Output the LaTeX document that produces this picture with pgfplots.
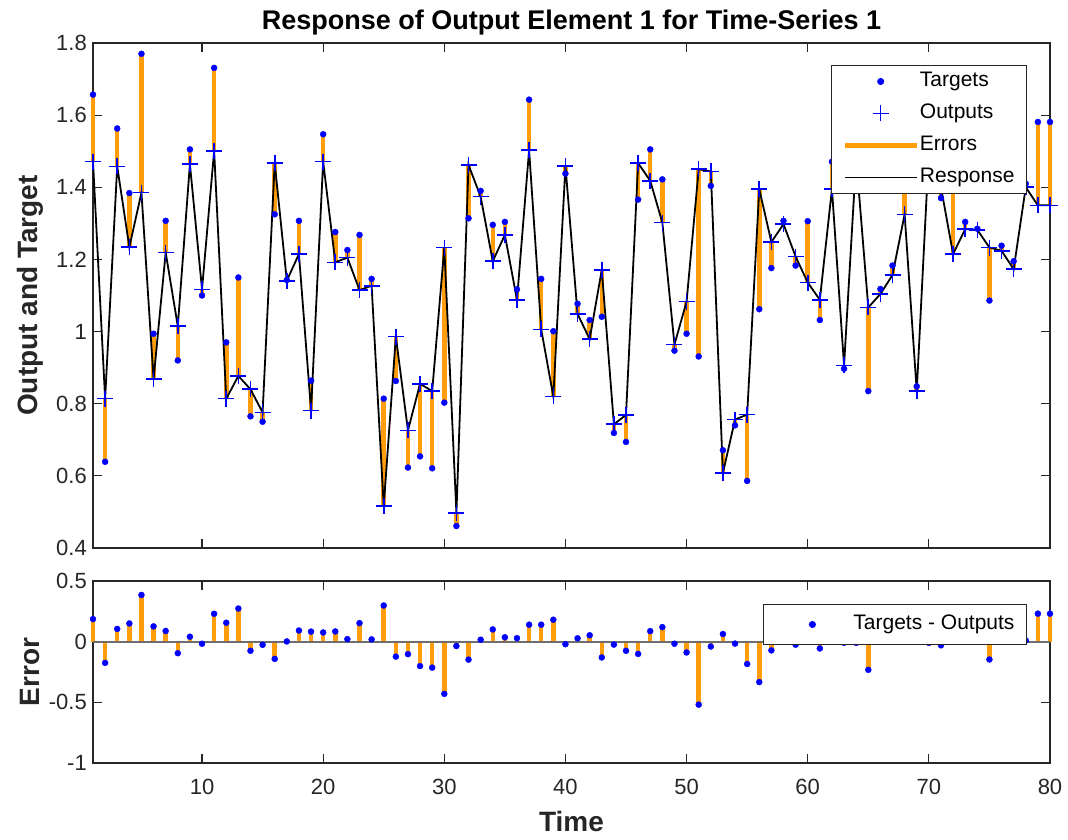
\documentclass[border=0pt]{standalone}
\usepackage{fontspec}
\setmainfont{Liberation Sans}
\usepackage{pgfplots}
\pgfplotsset{compat=1.18}
\usepackage{pgfplotstable}
\definecolor{orangeC}{RGB}{255,158,10}
\definecolor{axgray}{RGB}{38,38,38}
\definecolor{zgray}{RGB}{110,110,110}

\pgfplotstableread{
t tgt out
1 1.657 1.471
2 0.639 0.814
3 1.563 1.458
4 1.384 1.234
5 1.770 1.385
6 0.994 0.868
7 1.307 1.219
8 0.920 1.015
9 1.505 1.464
10 1.100 1.117
11 1.731 1.501
12 0.970 0.814
13 1.150 0.877
14 0.765 0.840
15 0.750 0.776
16 1.325 1.467
17 1.143 1.141
18 1.307 1.215
19 0.864 0.781
20 1.547 1.471
21 1.276 1.192
22 1.226 1.205
23 1.268 1.115
24 1.146 1.127
25 0.814 0.516
26 0.863 0.986
27 0.623 0.726
28 0.654 0.855
29 0.621 0.835
30 0.803 1.233
31 0.461 0.497
32 1.314 1.462
33 1.390 1.374
34 1.296 1.195
35 1.304 1.268
36 1.117 1.088
37 1.643 1.503
38 1.146 1.006
39 1.001 0.820
40 1.438 1.459
41 1.077 1.049
42 1.032 0.979
43 1.041 1.171
44 0.719 0.743
45 0.694 0.769
46 1.366 1.467
47 1.505 1.418
48 1.422 1.302
49 0.947 0.964
50 0.994 1.083
51 0.931 1.450
52 1.404 1.444
53 0.671 0.608
54 0.740 0.756
55 0.586 0.770
56 1.062 1.395
57 1.176 1.248
58 1.307 1.298
59 1.183 1.208
60 1.306 1.136
61 1.032 1.088
62 1.471 1.395
63 0.897 0.906
64 1.470 1.480
65 0.835 1.067
66 1.118 1.104
67 1.183 1.157
68 1.430 1.325
69 0.848 0.835
70 1.490 1.500
71 1.370 1.400
72 1.450 1.215
73 1.304 1.284
74 1.285 1.282
75 1.086 1.233
76 1.238 1.224
77 1.195 1.173
78 1.410 1.400
79 1.581 1.350
80 1.581 1.350
}\data

\pgfplotsset{
  common/.style={
    scale only axis, width=957pt, xmin=1, xmax=80, clip=false,
    xtick={10,20,30,40,50,60,70,80},
    axis line style={axgray, line width=1.2pt},
    tick style={axgray, line width=1.2pt},
    major tick length=9pt,
    tick align=inside,
    ticklabel style={font=\fontsize{22}{26}\selectfont, text=axgray},
    /pgf/number format/assume math mode=true,
    xticklabel style={anchor=north, inner sep=0pt, yshift=-16pt},
    yticklabel style={anchor=east, inner sep=0pt, xshift=-6pt},
    every axis y label/.style={at={([xshift=-63pt]axis description cs:0,0.5)}, rotate=90, anchor=center, font=\bfseries\fontsize{28}{32}\selectfont, text=axgray},
    every axis x label/.style={at={([yshift=-58pt]axis description cs:0.5,0)}, anchor=center, font=\bfseries\fontsize{28}{32}\selectfont, text=axgray},
    legend cell align=left,
  }
}

\begin{document}
\begin{tikzpicture}
% ---------- top axis ----------
\begin{axis}[common,
  at={(0pt,215pt)}, anchor=south west,
  height=505pt,
  ymin=0.4, ymax=1.8,
  ytick={0.4,0.6,0.8,1,1.2,1.4,1.6,1.8},
  xticklabels={},
  ylabel={Output and Target},
  title={Response of Output Element 1 for Time-Series 1},
  every axis title/.style={at={([yshift=20pt]axis description cs:0.5,1)}, anchor=center, font=\bfseries\fontsize{27}{32}\selectfont, text=black},
  legend style={at={([xshift=-23pt,yshift=-22pt]axis description cs:1,1)}, anchor=north east,
    draw=axgray, line width=1pt, fill=white, text=black,
    font=\fontsize{21}{25}\selectfont,
    inner xsep=11pt, inner ysep=5pt, row sep=10pt,
    nodes={inner sep=1pt, text height=15pt, text depth=5pt}},
]
\addlegendimage{legend image code/.code={\path[draw=none,fill=none] (0pt,0pt) -- (72pt,0pt); \fill[blue] (36pt,0pt) circle (3pt);}}
\addlegendentry{Targets}
\addlegendimage{legend image code/.code={\path[draw=none,fill=none] (0pt,0pt) -- (72pt,0pt); \draw[blue, line width=1.6pt] (28pt,0pt) -- (44pt,0pt) (36pt,-8pt) -- (36pt,8pt);}}
\addlegendentry{Outputs}
\addlegendimage{legend image code/.code={\draw[orangeC, line width=4.5pt] (0pt,0pt) -- (72pt,0pt);}}
\addlegendentry{Errors}
\addlegendimage{legend image code/.code={\draw[black, line width=1.8pt] (0pt,0pt) -- (72pt,0pt);}}
\addlegendentry{Response}

\addplot[forget plot, orangeC, line width=4.5pt, quiver={u=0, v=\thisrow{tgt}-\thisrow{out}}] table[x=t, y=out] {\data};
\addplot[forget plot, black, line width=1.8pt, mark=none] table[x=t, y=out] {\data};
\addplot[forget plot, only marks, mark=*, mark size=3pt, blue] table[x=t, y=tgt] {\data};
\addplot[forget plot, only marks, mark=+, mark size=8pt, blue, mark options={line width=1.6pt}] table[x=t, y=out] {\data};
\end{axis}

% ---------- bottom axis ----------
\begin{axis}[common,
  at={(0pt,0pt)}, anchor=south west,
  height=182pt,
  ymin=-1, ymax=0.5,
  ytick={-1,-0.5,0,0.5},
  xlabel={Time},
  ylabel={Error},
  legend style={at={([xshift=-23pt,yshift=-23pt]axis description cs:1,1)}, anchor=north east,
    draw=axgray, line width=1pt, fill=white, text=black,
    font=\fontsize{21}{25}\selectfont,
    inner xsep=11pt, inner ysep=9pt,
    nodes={inner sep=1pt, text height=15pt, text depth=5pt}},
]
\addlegendimage{legend image code/.code={\path[draw=none,fill=none] (0pt,0pt) -- (78pt,0pt); \fill[blue] (38pt,0pt) circle (3pt);}}
\addlegendentry{Targets - Outputs}

\addplot[forget plot, ycomb, orangeC, line width=4.5pt, mark=none] table[x=t, y expr=\thisrow{tgt}-\thisrow{out}] {\data};
\addplot[forget plot, zgray, line width=2.2pt, mark=none] coordinates {(1,0) (80,0)};
\addplot[forget plot, only marks, mark=*, mark size=3pt, blue] table[x=t, y expr=\thisrow{tgt}-\thisrow{out}] {\data};
\end{axis}

\pgfresetboundingbox
\useasboundingbox (-93pt,-76pt) rectangle (975pt,763pt);
\end{tikzpicture}
\end{document}
